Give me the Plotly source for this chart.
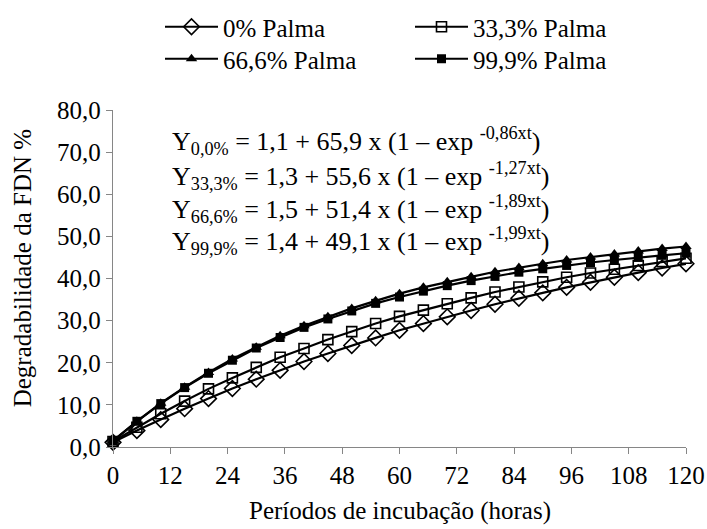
import plotly.graph_objects as go

hours = [0, 5, 10, 15, 20, 25, 30, 35, 40, 45, 50, 55, 60, 65, 70, 75, 80, 85, 90, 95, 100, 105, 110, 115, 120]

palma_0 = [1.1, 3.9, 6.5, 9.1, 11.5, 13.9, 16.1, 18.2, 20.3, 22.2, 24.1, 25.9, 27.7, 29.3, 30.9, 32.4,
           33.9, 35.3, 36.6, 37.9, 39.1, 40.3, 41.4, 42.5, 43.5]
palma_33 = [1.3, 4.7, 7.9, 10.9, 13.8, 16.4, 18.9, 21.3, 23.4, 25.5, 27.4, 29.3, 31.0, 32.5, 34.0, 35.4,
            36.8, 38.0, 39.2, 40.3, 41.3, 42.2, 43.1, 44.0, 44.8]
palma_66 = [1.5, 6.1, 10.4, 14.2, 17.7, 20.9, 23.7, 26.4, 28.8, 30.9, 32.9, 34.7, 36.4, 37.9, 39.2, 40.4,
            41.6, 42.6, 43.5, 44.4, 45.1, 45.8, 46.5, 47.1, 47.6]
palma_99 = [1.4, 6.1, 10.3, 14.1, 17.5, 20.6, 23.5, 26.0, 28.4, 30.4, 32.3, 34.1, 35.6, 37.0, 38.3, 39.5,
            40.5, 41.5, 42.3, 43.1, 43.8, 44.4, 45.0, 45.5, 46.0]

series_names = ["0% Palma", "33,3% Palma", "66,6% Palma", "99,9% Palma"]
x_ticks = [0, 12, 24, 36, 48, 60, 72, 84, 96, 108, 120]
y_ticks = [0, 10, 20, 30, 40, 50, 60, 70, 80]
y_tick_labels = ["0,0", "10,0", "20,0", "30,0", "40,0", "50,0", "60,0", "70,0", "80,0"]
x_title = "Períodos de incubação (horas)"
y_title = "Degradabilidade da FDN %"

equations = [
    "Y<sub>0,0%</sub> = 1,1 + 65,9 x (1 – exp <sup>-0,86xt</sup>)",
    "Y<sub>33,3%</sub> = 1,3 + 55,6 x (1 – exp <sup>-1,27xt</sup>)",
    "Y<sub>66,6%</sub> = 1,5 + 51,4 x (1 – exp <sup>-1,89xt</sup>)",
    "Y<sub>99,9%</sub> = 1,4 + 49,1 x (1 – exp <sup>-1,99xt</sup>)",
]
eq_y = [72.6, 64.3, 56.4, 48.8]

FONT = "Liberation Serif"
AXIS_COLOR = "#868686"

fig = go.Figure()

styles = [
    dict(symbol="diamond-open", size=12, line=dict(width=1.6, color="black"), color="black"),
    dict(symbol="square-open", size=10, line=dict(width=1.6, color="black"), color="black"),
    dict(symbol="triangle-up", size=10, line=dict(width=0, color="black"), color="black"),
    dict(symbol="square", size=9, line=dict(width=0, color="black"), color="black"),
]
data = [palma_0, palma_33, palma_66, palma_99]
legend_ids = ["legend", "legend2", "legend3", "legend4"]

for name, ys, st, lg in zip(series_names, data, styles, legend_ids):
    fig.add_trace(go.Scatter(
        x=hours, y=ys, name=name, mode="lines+markers",
        line=dict(color="black", width=2.2),
        marker=st, cliponaxis=False, legend=lg,
    ))

for txt, yy in zip(equations, eq_y):
    fig.add_annotation(x=12.0, y=yy, xref="x", yref="y", text=txt, showarrow=False,
                       xanchor="left", yanchor="middle",
                       font=dict(family=FONT, size=26, color="black"))

# axis titles as annotations
fig.add_annotation(x=0.5, y=-0.19, xref="paper", yref="paper", text=x_title, showarrow=False,
                   xanchor="center", yanchor="middle",
                   font=dict(family=FONT, size=25, color="black"))
fig.add_annotation(x=-0.159, y=0.53, xref="paper", yref="paper", text=y_title, showarrow=False,
                   textangle=-90, xanchor="center", yanchor="middle",
                   font=dict(family=FONT, size=25, color="black"))

legend_common = dict(
    orientation="v", xref="container", yref="container",
    yanchor="top", xanchor="left",
    font=dict(family=FONT, size=25, color="black"),
    bgcolor="rgba(0,0,0,0)", tracegroupgap=0, itemwidth=53,
)

fig.update_layout(
    template="none",
    width=707, height=529,
    margin=dict(l=113, r=21, t=110, b=82, autoexpand=False),
    paper_bgcolor="white", plot_bgcolor="white",
    font=dict(family=FONT, size=25, color="black"),
    showlegend=True,
    legend=dict(x=160 / 707, y=1 - 4 / 529, **legend_common),
    legend2=dict(x=410 / 707, y=1 - 4 / 529, **legend_common),
    legend3=dict(x=160 / 707, y=1 - 36 / 529, **legend_common),
    legend4=dict(x=410 / 707, y=1 - 36 / 529, **legend_common),
    xaxis=dict(
        range=[0, 120], tickvals=x_ticks, ticktext=[str(v) for v in x_ticks],
        showline=True, linecolor=AXIS_COLOR, linewidth=1.3,
        ticks="outside", ticklen=6, tickcolor=AXIS_COLOR, tickwidth=1.3,
        showgrid=False, zeroline=False, automargin=False,
        tickfont=dict(family=FONT, size=25, color="black"),
    ),
    yaxis=dict(
        range=[0, 80], tickvals=y_ticks, ticktext=y_tick_labels,
        showline=True, linecolor=AXIS_COLOR, linewidth=1.3,
        ticks="outside", ticklen=6, tickcolor=AXIS_COLOR, tickwidth=1.3,
        showgrid=False, zeroline=False, automargin=False,
        tickfont=dict(family=FONT, size=25, color="black"),
    ),
)

fig.write_html("out.html")
